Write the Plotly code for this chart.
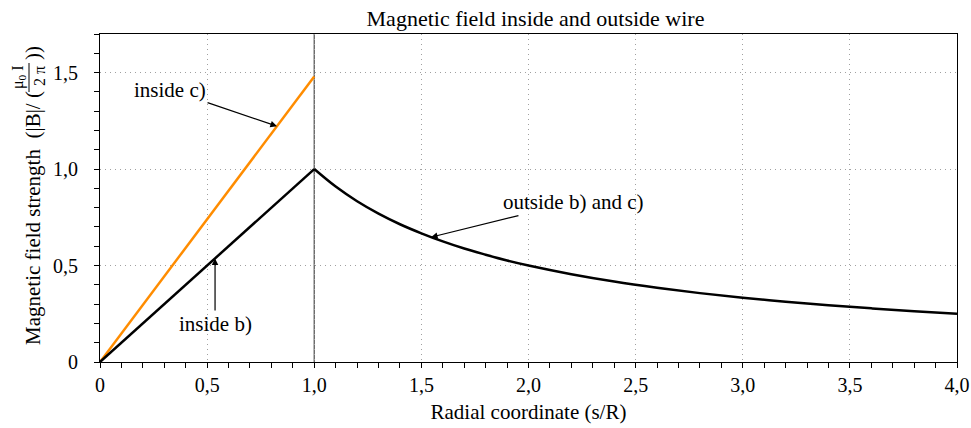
import plotly.graph_objects as go

# ---- data ----
s_inside = [0.0, 1.0]
b_inside_b = [0.0, 1.0]
b_inside_c = [0.0, 1.48]

s_outside = [1.0, 1.1, 1.2, 1.3, 1.4, 1.5, 1.6, 1.7, 1.8, 1.9, 2.0,
             2.2, 2.4, 2.6, 2.8, 3.0, 3.2, 3.4, 3.6, 3.8, 4.0]
b_outside = [1.0, 0.909, 0.833, 0.769, 0.714, 0.667, 0.625, 0.588, 0.556, 0.526, 0.5,
             0.455, 0.417, 0.385, 0.357, 0.333, 0.3125, 0.294, 0.278, 0.263, 0.25]

x_ticks = [0, 0.5, 1.0, 1.5, 2.0, 2.5, 3.0, 3.5, 4.0]
x_ticktext = ["0", "0,5", "1,0", "1,5", "2,0", "2,5", "3,0", "3,5", "4,0"]
y_ticks = [0, 0.5, 1.0, 1.5]
y_ticktext = ["0", "0,5", "1,0", "1,5"]
wire_radius = 1.0

FONT = "Liberation Serif"

# plot area in the page: x 100..957, y 34..362 (body margin removed below)
W, H = 971, 428
ML, MR, MT, MB = 100, 14, 34, 66
PW, PH = W - ML - MR, H - MT - MB


def px(xp):
    return (xp - ML) / PW


def py(yp):
    return (H - MB - yp) / PH


fig = go.Figure()
fig.add_trace(go.Scatter(x=s_inside, y=b_inside_c, mode="lines",
                         line=dict(color="#FF8C00", width=2.5), showlegend=False))
fig.add_trace(go.Scatter(x=s_inside, y=b_inside_b, mode="lines",
                         line=dict(color="black", width=2.5), showlegend=False))
fig.add_trace(go.Scatter(x=s_outside, y=b_outside, mode="lines",
                         line=dict(color="black", width=2.5, shape="spline"), showlegend=False))

fig.add_shape(type="line", x0=wire_radius, x1=wire_radius, y0=0, y1=1, yref="paper",
              line=dict(color="#666666", width=1.4), layer="below")

ann_font = dict(family=FONT, size=21, color="black")
arrow_kw = dict(showarrow=True, arrowhead=2, arrowsize=1.1, arrowwidth=1.2,
                arrowcolor="black", axref="x", ayref="y", font=ann_font)
fig.add_annotation(x=0.826, y=1.222, ax=0.327, ay=1.41, text="inside c)", **arrow_kw)
fig.add_annotation(x=0.537, y=0.537, ax=0.537, ay=0.197, text="inside b)", **arrow_kw)
fig.add_annotation(x=1.545, y=0.647, ax=2.208, ay=0.829, text="outside b) and c)", **arrow_kw)

# y-axis title built from rotated pieces (with a stacked fraction)
ytitle_font = dict(family=FONT, size=21, color="black")
frac_font = dict(family=FONT, size=16, color="black")
fig.add_annotation(xref="paper", yref="paper", x=px(33), y=py(347), xanchor="center",
                   yanchor="bottom", textangle=-90, showarrow=False,
                   text="Magnetic field strength  (|B|/ (", font=ytitle_font)
fig.add_annotation(xref="paper", yref="paper", x=px(18), y=py(77), xanchor="center",
                   yanchor="middle", textangle=-90, showarrow=False,
                   text="μ<sub>0</sub> I", font=frac_font)
fig.add_annotation(xref="paper", yref="paper", x=px(39), y=py(76), xanchor="center",
                   yanchor="middle", textangle=-90, showarrow=False,
                   text="2 π", font=frac_font)
fig.add_annotation(xref="paper", yref="paper", x=px(33), y=py(53), xanchor="center",
                   yanchor="middle", textangle=-90, showarrow=False,
                   text="))", font=ytitle_font)
fig.add_shape(type="line", xref="paper", yref="paper", x0=px(29), x1=px(29),
              y0=py(63), y1=py(92), line=dict(color="black", width=1))

axis_common = dict(showline=True, linecolor="black", linewidth=1.2, mirror=True,
                   ticks="outside", ticklen=5, tickcolor="black", tickwidth=1,
                   showgrid=True, gridcolor="#a0a0a0", griddash="1px,4px", gridwidth=1,
                   zeroline=False, automargin=False,
                   tickfont=dict(family=FONT, size=20, color="black"))

fig.update_xaxes(range=[0, 4], tickvals=x_ticks, ticktext=x_ticktext,
                 minor=dict(dtick=0.1, tick0=0, ticks="outside", ticklen=5,
                            tickcolor="black", showgrid=False),
                 title=dict(text="Radial coordinate (s/R)",
                            font=dict(family=FONT, size=21, color="black"), standoff=9),
                 **axis_common)
fig.update_yaxes(range=[0, 1.70], tickvals=y_ticks, ticktext=y_ticktext,
                 minor=dict(dtick=0.1, tick0=0, ticks="outside", ticklen=5,
                            tickcolor="black", showgrid=False),
                 ticklabelstandoff=12,
                 **axis_common)

fig.update_layout(
    width=W, height=H,
    margin=dict(l=ML, r=MR, t=MT, b=MB),
    paper_bgcolor="white", plot_bgcolor="white",
    title=dict(text="Magnetic field inside and outside wire", xref="paper",
               x=px(535.5), xanchor="center",
               yref="container", y=1 - 18 / H, yanchor="middle",
               font=dict(family=FONT, size=22, color="black")),
    font=dict(family=FONT, color="black"),
)

fig.write_html("out.html", config={"displayModeBar": False},
               post_script="document.body.style.margin='0px';")
